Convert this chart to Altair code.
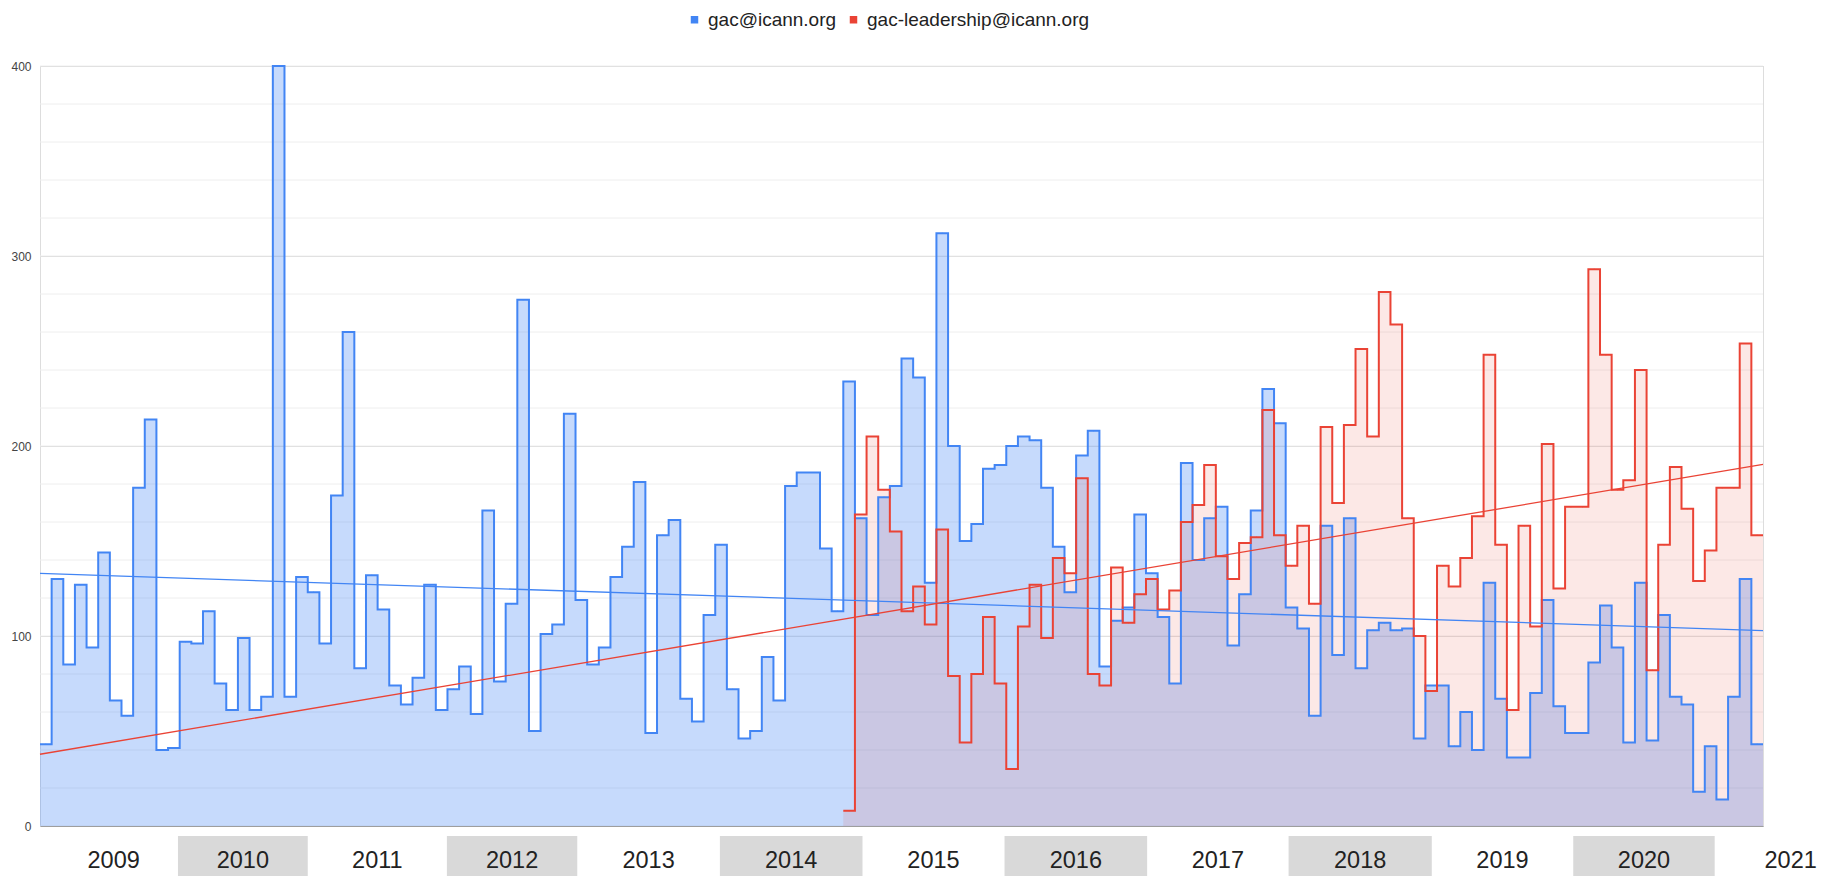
import altair as alt
import pandas as pd

# ---------------- data ----------------
series_names = ["gac@icann.org", "gac-leadership@icann.org"]
series_colors = ["#4285F4", "#EA4335"]

# monthly message counts, first month = Jan 2009
gac = [43, 130, 85, 127, 94, 144, 66, 58, 178, 214,
       40, 41, 97, 96, 113, 75, 61, 99, 61, 68,
       400, 68, 131, 123, 96, 174, 260, 83, 132, 114,
       74, 64, 78, 127, 61, 72, 84, 59, 166, 76,
       117, 277, 50, 101, 106, 217, 119, 85, 94, 131,
       147, 181, 49, 153, 161, 67, 55, 111, 148, 72,
       46, 50, 89, 66, 179, 186, 186, 146, 113, 234,
       162, 111, 173, 179, 246, 236, 128, 312, 200, 150,
       159, 188, 190, 200, 205, 203, 178, 147, 123, 195,
       208, 84, 108, 115, 164, 133, 110, 75, 191, 140,
       162, 168, 95, 122, 166, 230, 212, 115, 104, 58,
       158, 90, 162, 83, 103, 107, 103, 104, 46, 74,
       74, 42, 60, 40, 128, 67, 36, 36, 70, 119,
       63, 49, 49, 86, 116, 94, 44, 128, 45, 111,
       68, 64, 18, 42, 14, 68, 130, 43]

leadership_start = 69  # month index where the second list begins
leadership = [8, 164, 205, 177, 155, 113, 126, 106, 156, 79,
              44, 80, 110, 75, 30, 105, 127, 99, 141, 133,
              183, 80, 74, 136, 107, 122, 130, 114, 124, 160,
              169, 190, 142, 130, 149, 152, 219, 153, 137, 158,
              117, 210, 170, 211, 251, 205, 281, 264, 162, 100,
              71, 137, 126, 141, 163, 248, 148, 61, 158, 105,
              201, 125, 168, 168, 293, 248, 177, 182, 240, 82,
              148, 189, 167, 129, 145, 178, 178, 254, 153]

# year label cells along the month axis (cell edges, in months from Jan 2009)
year_labels = ["2009", "2010", "2011", "2012", "2013", "2014", "2015",
               "2016", "2017", "2018", "2019", "2020", "2021"]
year_cell_edges = [0.8, 11.85, 23.0, 34.95, 46.15, 58.4, 70.65,
                   82.85, 95.1, 107.25, 119.55, 131.7, 143.85, 156.9]
shaded_years = ["2010", "2012", "2014", "2016", "2018", "2020"]

y_ticks = [0, 100, 200, 300, 400]

# ---------------- tables ----------------
n_months = len(gac)


def step_rows(name, values, start):
    rows = [{"series": name, "t": start + i, "value": v} for i, v in enumerate(values)]
    # closing point so the last step gets its full width
    rows.append({"series": name, "t": start + len(values), "value": values[-1]})
    return rows


def point_rows(name, values, start):
    return [{"series": name, "tc": start + i + 0.5, "value": v} for i, v in enumerate(values)]


steps = pd.DataFrame(step_rows(series_names[0], gac, 0) +
                     step_rows(series_names[1], leadership, leadership_start))
points = pd.DataFrame(point_rows(series_names[0], gac, 0) +
                      point_rows(series_names[1], leadership, leadership_start))
years = pd.DataFrame({"year": year_labels,
                      "x0": year_cell_edges[:-1],
                      "x1": year_cell_edges[1:]})
years["shaded"] = years["year"].isin(shaded_years)

# ---------------- chart ----------------
W, H = 1723, 760
FONT = "Liberation Sans"

x_scale = alt.Scale(domain=[0, n_months], nice=False, zero=False)
y_scale = alt.Scale(domain=[0, 400], nice=False)
c_scale = alt.Scale(domain=series_names, range=series_colors)


def color_enc():
    return alt.Color("series:N", scale=c_scale, title=None)


legend_layer = alt.Chart(points).mark_point(
    shape="square", filled=True, opacity=1, size=1
).encode(
    x=alt.X("tc:Q", scale=x_scale, title=None,
            axis=alt.Axis(labels=False, ticks=False, grid=False, title=None,
                          domain=True, domainColor="#9e9e9e", domainWidth=1, zindex=1)),
    y=alt.Y("value:Q", scale=y_scale, title=None,
            axis=alt.Axis(values=y_ticks, title=None, ticks=False, domain=False,
                          grid=True, gridColor="#d4d4d4", gridWidth=1,
                          labelFontSize=12, labelColor="#444444", labelPadding=9,
                          labelFont=FONT)),
    color=alt.Color("series:N", scale=c_scale, title=None,
                    legend=alt.Legend(orient="none", legendX=645, legendY=-56,
                                      direction="horizontal", title=None,
                                      labelFontSize=19, labelFont=FONT,
                                      labelColor="#222222", labelLimit=500,
                                      symbolType="square", symbolSize=56,
                                      symbolStrokeWidth=0, symbolOpacity=1,
                                      labelOffset=4, columnPadding=7)),
)

minor_grid = alt.Chart(alt.sequence(0, 401, 20, as_="g")).mark_rule(
    color="#eeeeee", strokeWidth=1
).encode(
    y=alt.Y("g:Q", scale=y_scale, title=None),
)


def step_layer(name, mark_fn):
    return mark_fn(alt.Chart(steps).transform_filter(alt.datum.series == name)).encode(
        x=alt.X("t:Q", scale=x_scale, title=None),
        y=alt.Y("value:Q", scale=y_scale, title=None),
        color=color_enc(),
    )


blue_area = step_layer(series_names[0],
                       lambda c: c.mark_area(interpolate="step-after", fillOpacity=0.3))
red_area = step_layer(series_names[1],
                      lambda c: c.mark_area(interpolate="step-after", fillOpacity=0.12))
blue_line = step_layer(series_names[0],
                       lambda c: c.mark_line(interpolate="step-after", strokeWidth=2))
red_line = step_layer(series_names[1],
                      lambda c: c.mark_line(interpolate="step-after", strokeWidth=2))

trend = alt.Chart(points).transform_regression(
    "tc", "value", groupby=["series"], extent=[0, n_months]
).mark_line(strokeWidth=1.3).encode(
    x=alt.X("tc:Q", scale=x_scale, title=None),
    y=alt.Y("value:Q", scale=y_scale, title=None),
    color=color_enc(),
)

boxes = alt.Chart(years).transform_filter("datum.shaded").mark_rect(color="#d9d9d9").encode(
    x=alt.X("x0:Q", scale=x_scale, title=None),
    x2="x1:Q",
    y=alt.value(H + 10),
    y2=alt.value(H + 60),
)

labels = alt.Chart(years).transform_calculate(
    pos="(datum.x0 + datum.x1) / 2"
).mark_text(
    fontSize=23.5, font=FONT, color="#222222", baseline="middle", align="center"
).encode(
    x=alt.X("pos:Q", scale=x_scale, title=None),
    y=alt.value(H + 35),
    text="year:N",
)

chart = alt.layer(
    legend_layer, minor_grid, blue_area, red_area, blue_line, red_line, trend, boxes, labels
).properties(
    width=W, height=H,
    padding={"left": 32, "top": 58, "right": 60, "bottom": 50},
    autosize=alt.AutoSizeParams(type="none"),
).configure_view(strokeWidth=0).configure(font=FONT, background="white")

chart.save("out.html", embed_options={"renderer": "svg", "actions": False})
